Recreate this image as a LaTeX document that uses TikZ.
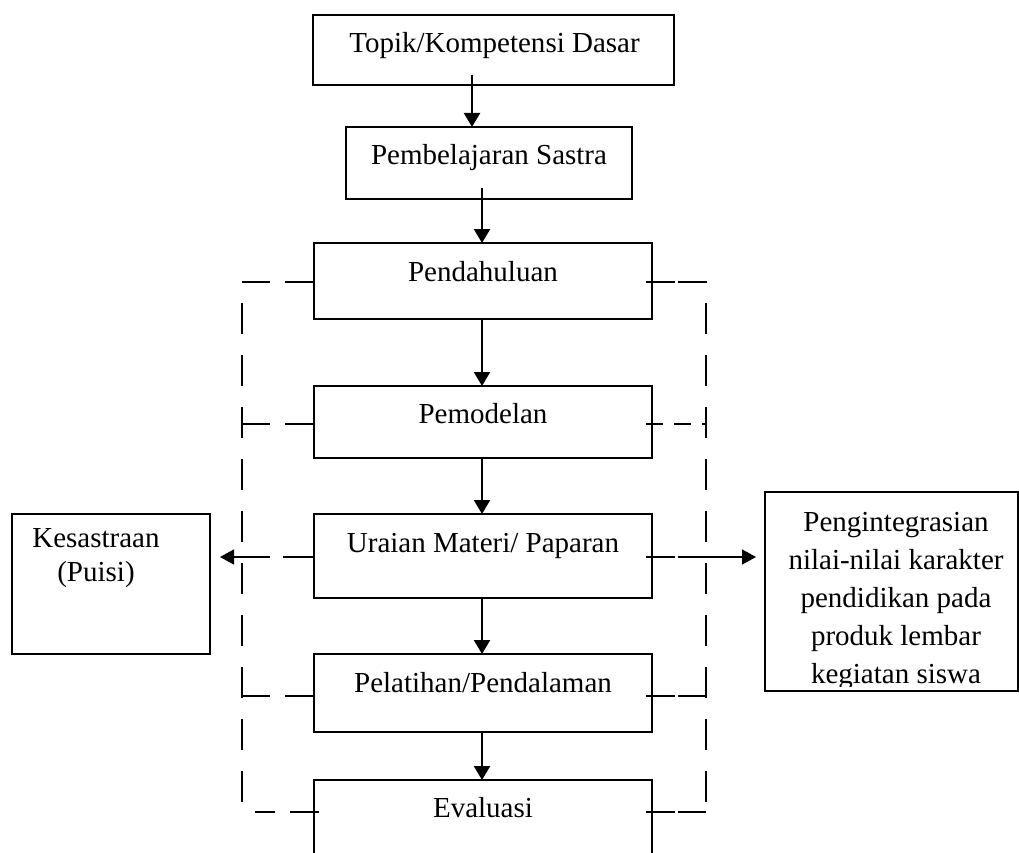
\documentclass[tikz,border=0pt]{standalone}
\usepackage{fontspec}
\setmainfont{Liberation Serif}
\usetikzlibrary{arrows.meta,calc}
\begin{document}
\begin{tikzpicture}[x=1pt,y=-1pt,
 box/.style={draw, line width=1.4pt, inner sep=0pt, outer sep=0pt},
 txt/.style={inner sep=0pt, anchor=base, font=\fontsize{29}{36}\selectfont},
 mtxt/.style={inner sep=0pt, anchor=north, align=center},
 arr/.style={line width=2.2pt, -{Triangle[length=14pt,width=16pt]}},
 harr/.style={line width=1.5pt, -{Triangle[length=14pt,width=15pt]}},
 dashline/.style={line width=1.5pt, dash pattern=on 29pt off 15pt},
 vdash/.style={line width=1.5pt, dash pattern=on 31pt off 21pt, dash phase=31pt}]
\useasboundingbox (0,0) rectangle (1019,853);
\clip (0,0) rectangle (1019,853);

% boxes
\node[box, minimum width=361pt, minimum height=70pt] (topik) at (493.5,50) {};
\node[box, minimum width=286pt, minimum height=72pt] (pemb) at (489,163) {};
\node[box, minimum width=338pt, minimum height=76pt] (pend) at (483,281) {};
\node[box, minimum width=338pt, minimum height=72pt] (pemod) at (483,422) {};
\node[box, minimum width=338pt, minimum height=84pt] (ur) at (483,556) {};
\node[box, minimum width=338pt, minimum height=78pt] (pel) at (483,693) {};
\node[box, minimum width=338pt, minimum height=100pt] (eval) at (483,830) {};
\node[box, minimum width=198pt, minimum height=140pt] (kes) at (111,584) {};

% texts
\node[txt] (t1) at (494.5,53) {Topik/Kompetensi Dasar};
\node[txt] (t2) at (489,165) {Pembelajaran Sastra};
\node[txt] (t3) at (483,281) {Pendahuluan};
\node[txt] (t4) at (483,423) {Pemodelan};
\node[txt] (t5) at (483,552) {Uraian Materi/ Paparan};
\node[txt] (t6) at (483,692) {Pelatihan/Pendalaman};
\node[txt] (t7) at (483,817) {Evaluasi};
\node[mtxt, font=\fontsize{29}{34}\selectfont] (t8) at (96,528.5) {Kesastraan\\(Puisi)};
\node[mtxt, font=\fontsize{29}{38}\selectfont] (t9) at (896,512.5)
  {Pengintegrasian\\nilai-nilai karakter\\pendidikan pada\\produk lembar\\kegiatan siswa};
% descenders of the last line are cut off by the box bottom
\fill[white] (768,687) rectangle (1016,695);
\node[box, minimum width=253pt, minimum height=199pt] (pint) at (891.5,591.5) {};

% vertical arrows
\draw[arr] ([xshift=-21.5pt,yshift=10pt]topik.south) -- ([xshift=-17pt]pemb.north);
\draw[arr] ([xshift=-7pt,yshift=11pt]pemb.south) -- ([xshift=-1pt]pend.north);
\draw[arr] ([xshift=-1pt]pend.south) -- ([xshift=-1pt]pemod.north);
\draw[arr] ([xshift=-1pt]pemod.south) -- ([xshift=-1pt]ur.north);
\draw[arr] ([xshift=-1pt]ur.south) -- ([xshift=-1pt]pel.north);
\draw[arr] ([xshift=-1pt]pel.south) -- ([xshift=-1pt]eval.north);

% dashed bracket
\coordinate (LT) at (242,282);
\coordinate (LB) at (242,813);
\coordinate (RT) at (706,282);
\coordinate (RB) at (706,812);
\draw[vdash] (LT) -- (LB);
\draw[vdash] (RT) -- (RB);

\draw[dashline] (pend.west |- LT) -- (LT);
\draw[dashline] (pemod.west |- 0,424) -- (LT |- 0,424);
\draw[dashline] (pel.west |- 0,696) -- (LT |- 0,696);
\draw[dashline] ($(eval.west |- RB)+(5,0)$) -- ($(LB)+(13,-1)$);

\draw[dashline, dash pattern=on 29pt off 3pt] ($(pend.east |- RT)+(-6,0)$) -- ($(RT)+(1,0)$);
\draw[dashline, dash pattern=on 17pt off 11pt] ($(pemod.east |- 0,424)+(-6,0)$) -- (RT |- 0,424);
\draw[dashline, dash pattern=on 29pt off 3pt] ($(pel.east |- 0,696)+(-6,0)$) -- (RT |- 0,696);
\draw[dashline, dash pattern=on 29pt off 3pt] ($(eval.east |- RB)+(-6,0)$) -- (RB);

% side arrows
\draw[harr, shorten >=10pt, dash pattern=on 31pt off 13pt on 80pt off 0pt]
  ($(ur.west)+(0,1)$) -- ($(ur.west -| kes.east)+(0,1)$);
\draw[harr, shorten >=9pt, dash pattern=on 29pt off 3pt on 100pt off 0pt]
  ($(ur.east)+(-6,1)$) -- ($(ur.east -| pint.west)+(0,1)$);
\end{tikzpicture}
\end{document}
